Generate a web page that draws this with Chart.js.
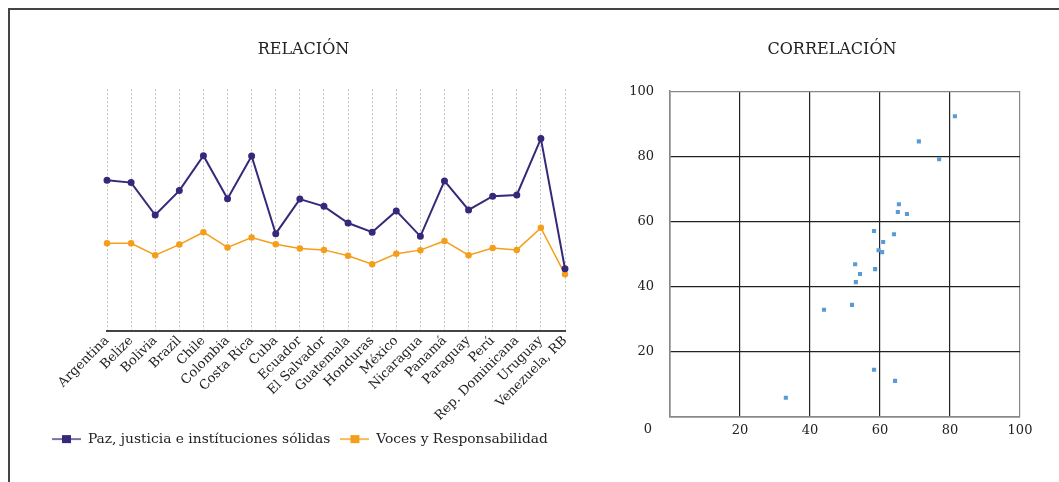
<!DOCTYPE html>
<html>
<head>
<meta charset="utf-8">
<script src="https://cdn.jsdelivr.net/npm/chart.js@4.4.1/dist/chart.umd.min.js"></script>
<style>
  body { margin: 0; background: #fff; width: 1059px; height: 482px; overflow: hidden; position: relative; }
  .frame { position: absolute; left: 8px; top: 8px; width: 1100px; height: 520px; border-top: 2px solid #444; border-left: 2px solid #444; }
  #relacion { position: absolute; left: 10px; top: 10px; }
  #correlacion { position: absolute; left: 610px; top: 10px; }
</style>
</head>
<body>
<div class="frame"></div>
<canvas id="relacion" width="600" height="460"></canvas>
<canvas id="correlacion" width="449" height="460"></canvas>
<script>
// countries (x axis of the line chart)
var paises = ["Argentina", "Belize", "Bolivia", "Brazil", "Chile", "Colombia", "Costa Rica", "Cuba", "Ecuador",
  "El Salvador", "Guatemala", "Honduras", "México", "Nicaragua", "Panamá", "Paraguay", "Perú",
  "Rep. Dominicana", "Uruguay", "Venezuela, RB"];

// series values
var paz = [62.4, 61.4, 48.0, 58.1, 72.5, 54.7, 72.4, 40.3, 54.6, 51.6, 44.7, 40.9, 49.7, 39.2, 62.1, 50.1, 55.8, 56.3, 79.6, 25.8];
var voces = [36.3, 36.3, 31.4, 35.8, 40.9, 34.6, 38.7, 35.9, 34.2, 33.6, 31.2, 27.7, 32.0, 33.5, 37.3, 31.4, 34.4, 33.6, 42.7, 23.5];

// scatter points (x, y)
var corrX = [33.1, 44.0, 81.4, 71.1, 76.9, 65.4, 65.1, 67.7, 58.3, 64.0, 60.9, 59.6, 60.6, 52.9, 58.6, 54.3, 53.1, 52.0, 58.3, 64.3];
var corrY = [5.9, 32.9, 92.3, 84.6, 79.1, 65.3, 62.9, 62.3, 57.1, 56.1, 53.7, 51.2, 50.6, 46.9, 45.4, 43.9, 41.4, 34.4, 14.5, 11.1];
var corrTicks = [0, 20, 40, 60, 80, 100];

var fuente = "'DejaVu Serif', serif";
Chart.defaults.font.family = fuente;
Chart.defaults.color = "#222";

var morado = "#36297a";
var naranja = "#f59e1b";

// legend marker: a short line with a square in the middle
function marcador(color, lineColor) {
  var c = document.createElement("canvas");
  c.width = 29; c.height = 10;
  var g = c.getContext("2d");
  g.strokeStyle = lineColor;
  g.lineWidth = 2;
  g.beginPath(); g.moveTo(0, 5); g.lineTo(29, 5); g.stroke();
  g.fillStyle = color;
  g.fillRect(10, 1, 9, 8);
  return c;
}
var marcas = [marcador(morado, "#7a70a8"), marcador(naranja, "#f8bb60")];

// empty axis used only to reserve room on a side
function hueco(pos, w) {
  return {
    position: pos, display: true,
    grid: {display: false}, border: {display: false}, ticks: {display: false},
    afterFit: function (s) { s.width = w; }
  };
}

new Chart("relacion", {
  type: "line",
  data: {
    labels: paises,
    datasets: [{
      label: "Paz, justicia e instítuciones sólidas",
      data: paz,
      borderColor: morado,
      backgroundColor: morado,
      borderWidth: 2,
      pointRadius: 2.5,
      tension: 0
    }, {
      label: "Voces y Responsabilidad",
      data: voces,
      borderColor: naranja,
      backgroundColor: naranja,
      borderWidth: 1.5,
      pointRadius: 2.5,
      tension: 0
    }]
  },
  options: {
    responsive: false,
    animation: false,
    layout: {padding: {left: 32, right: 45, top: 0, bottom: 14}},
    plugins: {
      title: {
        display: true,
        text: "RELACIÓN",
        font: {size: 16, weight: "normal"},
        color: "#222",
        padding: {top: 30, bottom: 30}
      },
      legend: {
        position: "bottom",
        align: "start",
        labels: {
          usePointStyle: true,
          pointStyleWidth: 29,
          boxHeight: 10,
          padding: 10,
          font: {size: 13.8},
          color: "#222",
          generateLabels: function (chart) {
            var items = Chart.defaults.plugins.legend.labels.generateLabels(chart);
            items.forEach(function (it, i) { it.pointStyle = marcas[i]; });
            return items;
          }
        }
      },
      tooltip: {enabled: false}
    },
    scales: {
      x: {
        grid: {color: "#c4c4c4", lineWidth: 1, drawTicks: false},
        border: {color: "#444", width: 2, dash: [2, 2]},
        ticks: {maxRotation: 45, minRotation: 45, padding: 2, font: {size: 13}, color: "#222", autoSkip: false},
        afterFit: function (s) { s.height = 91; }
      },
      y: {
        min: 0, max: 100,
        grid: {display: false},
        border: {display: false},
        ticks: {display: false},
        afterFit: function (s) { s.width = 65; }
      }
    }
  }
});

// draws the lone "0" at the origin corner
var origen = {
  id: "origen",
  afterDraw: function (chart) {
    var a = chart.chartArea, ctx = chart.ctx;
    ctx.save();
    ctx.font = "13px " + fuente;
    ctx.fillStyle = "#222";
    ctx.textAlign = "center";
    ctx.textBaseline = "middle";
    ctx.fillText("0", a.left - 22, a.bottom + 13);
    ctx.restore();
  }
};

var puntos = corrX.map(function (x, i) { return {x: x, y: corrY[i]}; });

new Chart("correlacion", {
  type: "scatter",
  data: {
    datasets: [{
      data: puntos,
      pointStyle: "rect",
      pointRadius: 2.9,
      backgroundColor: "#5b9bd5",
      borderWidth: 0
    }]
  },
  options: {
    responsive: false,
    animation: false,
    layout: {padding: {left: 0, right: 5, top: 0, bottom: 23}},
    plugins: {
      title: {
        display: true,
        text: "CORRELACIÓN",
        font: {size: 16, weight: "normal"},
        color: "#222",
        padding: {top: 30, bottom: 32}
      },
      legend: {display: false},
      tooltip: {enabled: false}
    },
    scales: {
      x: {
        min: 0, max: 100,
        afterBuildTicks: function (s) { s.ticks = corrTicks.map(function (v) { return {value: v}; }); },
        grid: {drawTicks: false, lineWidth: 1.2, color: function (c) { return c.tick && c.tick.value === 100 ? "#888" : "#222"; }},
        border: {color: "#888", width: 1.5},
        ticks: {padding: 6, font: {size: 13}, color: "#222", callback: function (v) { return v === 0 ? "" : v; }},
        afterFit: function (s) { s.height = 30; }
      },
      y: {
        min: 0, max: 100,
        afterBuildTicks: function (s) { s.ticks = corrTicks.map(function (v) { return {value: v}; }); },
        grid: {drawTicks: false, lineWidth: 1.2, color: function (c) { return c.tick && c.tick.value === 100 ? "#888" : "#222"; }},
        border: {color: "#888", width: 1.5},
        ticks: {padding: 16, font: {size: 13}, color: "#222", callback: function (v) { return v === 0 ? "" : v; }},
        afterFit: function (s) { s.width = 60; }
      },
      derecha: hueco("right", 34)
    }
  },
  plugins: [origen]
});
</script>
</body>
</html>
